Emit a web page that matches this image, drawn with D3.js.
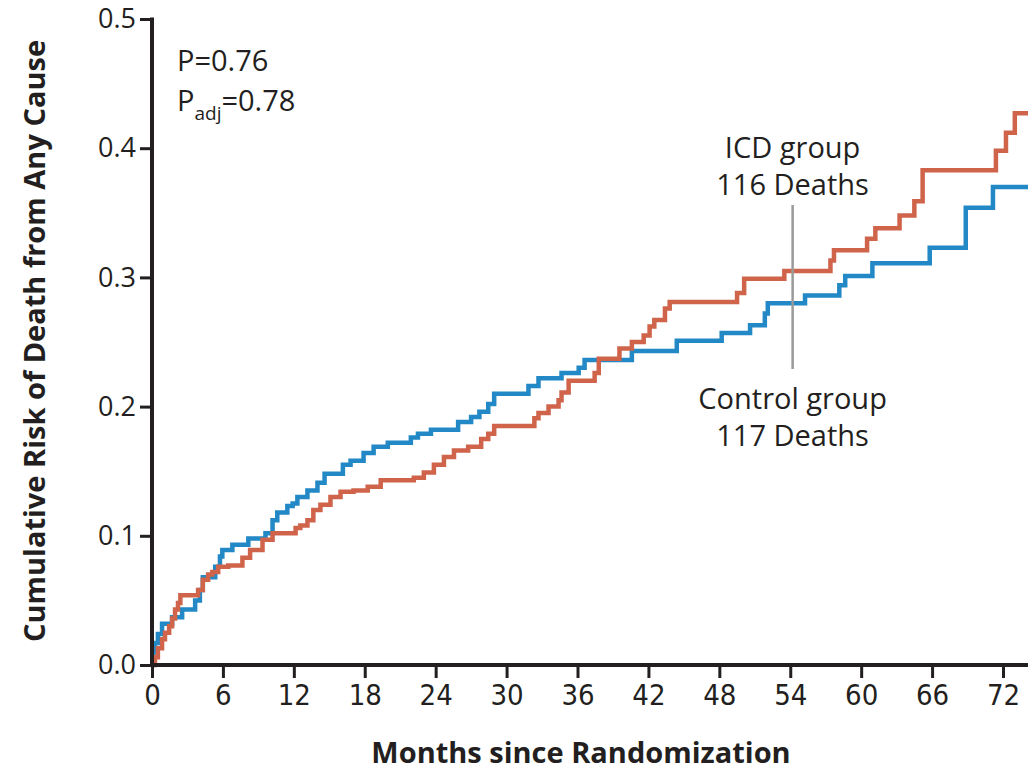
<!DOCTYPE html>
<html>
<head>
<meta charset="utf-8">
<script src="https://cdn.jsdelivr.net/npm/d3@7"></script>
<style>
  html, body { margin: 0; padding: 0; background: #fff; }
  svg { display: block; }
  text { fill: #231f20; }
</style>
</head>
<body>
<svg id="chart" width="1028" height="773"></svg>
<script>
// Kaplan-Meier style cumulative risk curves (step-after), months vs risk
const icdMonths = [0, 0.25, 0.5, 0.85, 1.1, 1.45, 1.7, 1.95, 2.2, 2.4, 3.9, 4.3, 4.75, 5.1, 5.6, 6.45, 7.65, 8.3, 9.35, 10.2,
  12.15, 12.55, 13.15, 13.65, 14.25, 15.1, 15.95, 17.05, 18.25, 19.35, 22.15, 23.0, 23.85, 24.7, 25.55, 26.75, 27.85, 28.45, 28.95,
  32.35, 32.7, 33.55, 34.4, 34.65, 35.25, 37.45, 37.8, 39.55, 40.6, 41.6, 42.1, 42.5, 43.4, 43.8, 49.5, 50.1, 53.5, 57.4, 57.7,
  60.5, 61.2, 63.25, 64.5, 65.2, 71.4, 72.25, 73.0, 74.2];
const icdRisk = [0, 0.006, 0.013, 0.020, 0.025, 0.030, 0.036, 0.043, 0.048, 0.054, 0.058, 0.066, 0.070, 0.072, 0.076, 0.077, 0.083, 0.089, 0.097, 0.102,
  0.106, 0.108, 0.112, 0.120, 0.124, 0.130, 0.134, 0.135, 0.138, 0.143, 0.145, 0.149, 0.155, 0.161, 0.166, 0.169, 0.175, 0.179, 0.185,
  0.191, 0.195, 0.200, 0.205, 0.211, 0.220, 0.226, 0.237, 0.245, 0.250, 0.255, 0.262, 0.267, 0.276, 0.281, 0.288, 0.299, 0.305, 0.313, 0.321,
  0.330, 0.338, 0.348, 0.359, 0.383, 0.398, 0.412, 0.427, 0.427];

const controlMonths = [0, 0.1, 0.25, 0.5, 0.85, 1.7, 2.55, 3.65, 4.05, 4.3, 5.35, 5.75, 5.95, 6.8, 8.15, 9.6, 10.2, 10.6, 11.45, 11.9,
  12.3, 13.15, 14.0, 14.6, 16.15, 16.8, 17.9, 18.75, 19.95, 21.9, 22.5, 23.6, 25.9, 27.0, 27.7, 28.45, 28.95, 31.85, 32.7, 34.65, 36.1, 36.6,
  40.6, 44.4, 48.2, 50.6, 51.85, 52.1, 55.25, 58.15, 58.65, 60.95, 65.8, 68.85, 71.15, 74.2];
const controlRisk = [0, 0.010, 0.017, 0.024, 0.032, 0.037, 0.043, 0.050, 0.058, 0.068, 0.076, 0.084, 0.089, 0.093, 0.098, 0.102, 0.112, 0.118, 0.123, 0.125,
  0.130, 0.135, 0.141, 0.148, 0.155, 0.158, 0.164, 0.169, 0.172, 0.176, 0.179, 0.182, 0.188, 0.192, 0.196, 0.202, 0.210, 0.216, 0.222, 0.226, 0.230, 0.236,
  0.243, 0.251, 0.257, 0.263, 0.272, 0.280, 0.286, 0.294, 0.301, 0.311, 0.323, 0.354, 0.370, 0.370];

const xTicks = [0, 6, 12, 18, 24, 30, 36, 42, 48, 54, 60, 66, 72];
const yTicks = [0.0, 0.1, 0.2, 0.3, 0.4, 0.5];

const icdColor = "#d0644b";
const controlColor = "#2288c6";
const inkColor = "#231f20";

const svg = d3.select("#chart");

const x = d3.scaleLinear().domain([0, 72]).range([152, 1003]);
const y = d3.scaleLinear().domain([0, 0.5]).range([665, 19]);
const xEnd = 1028;

const tickFont = "'Liberation Sans Narrow', 'DejaVu Sans Condensed', 'Open Sans', sans-serif";
const textFont = "'Open Sans', 'Noto Sans', sans-serif";

// Curves
const line = d3.line()
  .x(d => x(d[0]))
  .y(d => y(d[1]))
  .curve(d3.curveStepAfter);

svg.append("clipPath").attr("id", "plotClip")
  .append("rect").attr("x", 150).attr("y", 0).attr("width", 880).attr("height", 668);

const curves = svg.append("g").attr("clip-path", "url(#plotClip)");

curves.append("path")
  .datum(controlMonths.map((m, i) => [m, controlRisk[i]]))
  .attr("d", line)
  .attr("fill", "none")
  .attr("stroke", controlColor)
  .attr("stroke-width", 4.5)
  .attr("stroke-linejoin", "miter");

curves.append("path")
  .datum(icdMonths.map((m, i) => [m, icdRisk[i]]))
  .attr("d", line)
  .attr("fill", "none")
  .attr("stroke", icdColor)
  .attr("stroke-width", 4.5)
  .attr("stroke-linejoin", "miter");

// Axes
const xAxis = d3.axisBottom(x).tickValues(xTicks).tickSize(13).tickPadding(6).tickFormat(d3.format("d"));
const gx = svg.append("g").attr("transform", `translate(0, ${y(0)})`).call(xAxis);
gx.select(".domain").remove();
gx.append("line")
  .attr("x1", x(0) - 2).attr("x2", xEnd)
  .attr("y1", 0).attr("y2", 0)
  .attr("stroke", inkColor).attr("stroke-width", 4);
gx.selectAll(".tick line").attr("stroke", inkColor).attr("stroke-width", 3);
gx.selectAll(".tick text")
  .style("font-family", tickFont)
  .style("font-size", "29px")
  .attr("fill", inkColor);

const yAxis = d3.axisLeft(y).tickValues(yTicks).tickSize(12).tickPadding(4).tickFormat(d3.format(".1f"));
const gy = svg.append("g").attr("transform", `translate(${x(0)}, 0)`).call(yAxis);
gy.select(".domain").remove();
gy.append("line")
  .attr("x1", 0).attr("x2", 0)
  .attr("y1", y(0.5) - 1.5).attr("y2", y(0) + 2)
  .attr("stroke", inkColor).attr("stroke-width", 4);
gy.selectAll(".tick line").attr("stroke", inkColor).attr("stroke-width", 3);
gy.selectAll(".tick text")
  .style("font-family", textFont)
  .style("font-size", "27px")
  .attr("fill", inkColor);

// Axis titles
svg.append("text")
  .attr("x", 581).attr("y", 763)
  .attr("text-anchor", "middle")
  .style("font-family", textFont)
  .style("font-weight", "bold")
  .style("font-size", "29px")
  .text("Months since Randomization");

svg.append("text")
  .attr("transform", "translate(45, 341) rotate(-90)")
  .attr("text-anchor", "middle")
  .style("font-family", textFont)
  .style("font-weight", "bold")
  .style("font-size", "29px")
  .text("Cumulative Risk of Death from Any Cause");

// P values
svg.append("text")
  .attr("x", 177).attr("y", 71)
  .style("font-family", textFont)
  .style("font-size", "29px")
  .text("P=0.76");

const padj = svg.append("text")
  .attr("x", 177).attr("y", 111)
  .style("font-family", textFont)
  .style("font-size", "29px");
padj.append("tspan").text("P");
padj.append("tspan").attr("dy", 9).style("font-size", "19px").text("adj");
padj.append("tspan").attr("dy", -9).text("=0.78");

// Group labels with connector
const labelX = x(54.2);
svg.append("line")
  .attr("x1", labelX).attr("x2", labelX)
  .attr("y1", 205).attr("y2", 369)
  .attr("stroke", "#9a9a9a").attr("stroke-width", 2.5);

const labels = [
  { text: "ICD group", yPos: 158 },
  { text: "116 Deaths", yPos: 195 },
  { text: "Control group", yPos: 409 },
  { text: "117 Deaths", yPos: 446 }
];
svg.selectAll("text.grp").data(labels).enter().append("text")
  .attr("class", "grp")
  .attr("x", labelX).attr("y", d => d.yPos)
  .attr("text-anchor", "middle")
  .style("font-family", textFont)
  .style("font-size", "29px")
  .text(d => d.text);
</script>
</body>
</html>
